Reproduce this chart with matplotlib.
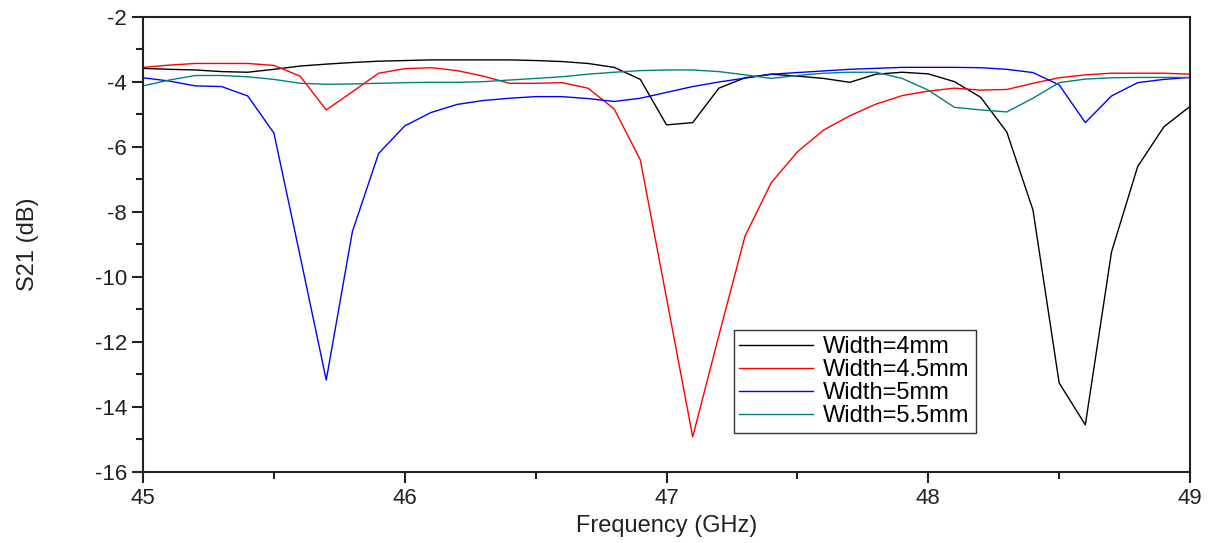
import numpy as np
import matplotlib.pyplot as plt
from matplotlib.ticker import MultipleLocator

plt.rcParams['font.family'] = ['Liberation Sans', 'DejaVu Sans']
plt.rcParams['axes.unicode_minus'] = False

# frequency sweep, 0.1 GHz step
freq = np.round(np.arange(45.0, 49.01, 0.1), 1)

# S21 (dB)
s21_w4 = [-3.58, -3.61, -3.63, -3.68, -3.70, -3.61, -3.51, -3.45, -3.40, -3.36,
          -3.34, -3.32, -3.32, -3.32, -3.32, -3.34, -3.37, -3.43, -3.55, -3.92,
          -5.32, -5.25, -4.19, -3.87, -3.76, -3.82, -3.89, -4.01, -3.76, -3.70,
          -3.75, -3.99, -4.47, -5.54, -7.94, -13.26, -14.55, -9.23, -6.60, -5.38,
          -4.75]
s21_w45 = [-3.55, -3.48, -3.43, -3.43, -3.43, -3.49, -3.82, -4.86, -4.30, -3.73,
           -3.59, -3.56, -3.65, -3.82, -4.04, -4.04, -4.02, -4.19, -4.83, -6.40,
           -10.65, -14.92, -11.80, -8.74, -7.10, -6.15, -5.48, -5.04, -4.68, -4.42,
           -4.28, -4.19, -4.25, -4.23, -4.04, -3.87, -3.78, -3.73, -3.73, -3.73,
           -3.76]
s21_w5 = [-3.87, -3.97, -4.12, -4.14, -4.43, -5.57, -9.35, -13.17, -8.60, -6.20,
          -5.35, -4.94, -4.69, -4.57, -4.50, -4.45, -4.45, -4.51, -4.60, -4.50,
          -4.32, -4.14, -4.00, -3.88, -3.76, -3.71, -3.66, -3.61, -3.58, -3.55,
          -3.55, -3.55, -3.56, -3.61, -3.71, -4.09, -5.25, -4.43, -4.02, -3.92,
          -3.86]
s21_w55 = [-4.12, -3.94, -3.80, -3.80, -3.84, -3.92, -4.04, -4.07, -4.06, -4.04,
           -4.02, -4.01, -4.01, -3.99, -3.94, -3.89, -3.84, -3.76, -3.70, -3.65,
           -3.63, -3.63, -3.68, -3.78, -3.89, -3.80, -3.73, -3.70, -3.70, -3.89,
           -4.25, -4.78, -4.86, -4.92, -4.50, -4.02, -3.91, -3.87, -3.86, -3.86,
           -3.86]

labels = ['Width=4mm', 'Width=4.5mm', 'Width=5mm', 'Width=5.5mm']
colors = ['#000000', '#ff0000', '#0000ff', '#008080']

fig = plt.figure(figsize=(12.1, 5.43), dpi=100)
ax = fig.add_axes([0.1182, 0.1308, 0.8653, 0.8379])

for ys, lab, c in zip([s21_w4, s21_w45, s21_w5, s21_w55], labels, colors):
    ax.plot(freq, ys, color=c, linewidth=1.0, label=lab)

ax.set_xlim(45, 49)
ax.set_ylim(-16, -2)
ax.xaxis.set_major_locator(MultipleLocator(1))
ax.xaxis.set_minor_locator(MultipleLocator(0.5))
ax.yaxis.set_major_locator(MultipleLocator(2))
ax.yaxis.set_minor_locator(MultipleLocator(1))
ax.tick_params(which='major', direction='out', length=8, width=1.5,
               labelsize=16, colors='#222222')
ax.tick_params(which='minor', direction='out', length=5, width=1.5, colors='#222222')
for s in ax.spines.values():
    s.set_linewidth(1.5)
    s.set_color('#222222')

ax.set_xlabel('Frequency (GHz)', fontsize=17, labelpad=4, color='#222222')
ax.set_ylabel('S21 (dB)', fontsize=17, labelpad=40, color='#222222')

leg = ax.legend(loc='lower left', bbox_to_anchor=(0.564, 0.085), fontsize=17,
                handlelength=3.1, handletextpad=0.45, labelspacing=0.05,
                borderpad=0.25, borderaxespad=0.0, fancybox=False,
                edgecolor='#333333', framealpha=1)
leg.get_frame().set_linewidth(1.0)

fig.savefig('out.png', dpi=100)
